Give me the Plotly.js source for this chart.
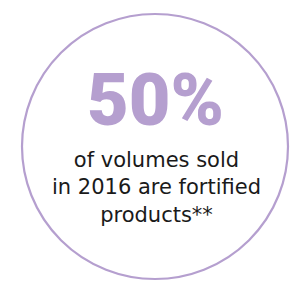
<!DOCTYPE html>
<html>
<head>
<meta charset="utf-8">
<script src="https://cdn.plot.ly/plotly-3.0.1.min.js"></script>
<style>html,body{margin:0;padding:0;background:#fff;}#chart{width:290px;height:281px;}</style>
</head>
<body>
<div id="chart"></div>
<script>
const shareValues = [50];
const shareUnits = ["%"];
const years = [2016];
const captionLines = ["of volumes sold", "in " + years[0] + " are fortified", "products**"];

const accent = "#b59fcf";
const annotations = [{
  x: 155, y: 100, xref: "x", yref: "y",
  text: "<span style='font-weight:900'>" + shareValues[0] + shareUnits[0] + "</span>",
  showarrow: false, xanchor: "center", yanchor: "middle",
  font: {family: "Roboto, sans-serif", size: 72, color: accent, weight: 900}
}, {
  x: 156, y: 187, xref: "x", yref: "y",
  text: captionLines.join("<br>"), showarrow: false, xanchor: "center", yanchor: "middle", align: "center",
  font: {family: "'DejaVu Sans', sans-serif", size: 21, color: "#1a1a1a"}
}];

Plotly.newPlot("chart", [{x: [], y: [], type: "scatter", hoverinfo: "skip"}], {
  width: 290, height: 281,
  margin: {l: 0, r: 0, t: 0, b: 0},
  paper_bgcolor: "#fff", plot_bgcolor: "#fff",
  showlegend: false,
  xaxis: {range: [0, 290], visible: false, fixedrange: true},
  yaxis: {range: [281, 0], visible: false, fixedrange: true},
  shapes: [{type: "circle", xref: "x", yref: "y", x0: 22, x1: 288, y0: 14, y1: 279,
    line: {color: accent, width: 2.2}, fillcolor: "rgba(0,0,0,0)"}],
  annotations: annotations
}, {staticPlot: true});
</script>
</body>
</html>
